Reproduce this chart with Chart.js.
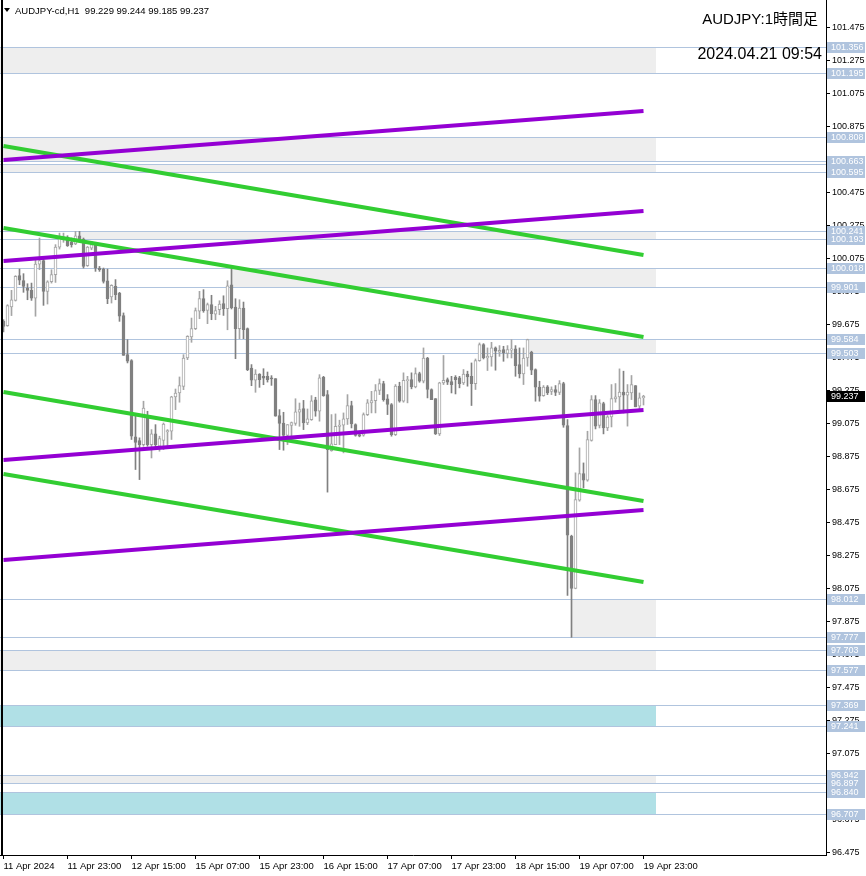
<!DOCTYPE html>
<html lang="ja">
<head>
<meta charset="UTF-8">
<title>AUDJPY H1</title>
<script src="https://cdn.jsdelivr.net/npm/chart.js@4.4.1/dist/chart.umd.min.js"></script>
<style>
  html, body { margin: 0; padding: 0; background: #fff; }
  #wrap { width: 866px; height: 876px; }
</style>
</head>
<body>
<div id="wrap"><canvas id="chart" width="866" height="876"></canvas></div>
<script>
// hourly candles, bar 0 = 11 Apr 07:00, bar 160 = 19 Apr 23:00
const opens = [
  99.692, 99.666, 99.779, 99.819, 99.969, 99.939, 99.894, 99.880, 99.832, 100.039,
  100.060, 99.874, 99.932, 99.975, 100.142, 100.191, 100.203, 100.171, 100.161, 100.211,
  100.191, 100.029, 100.136, 100.157, 100.015, 100.009, 99.938, 99.840, 99.904, 99.864,
  99.727, 99.490, 99.454, 98.992, 98.969, 98.945, 99.111, 98.945, 99.010, 98.935,
  98.971, 99.022, 99.026, 99.234, 99.258, 99.298, 99.470, 99.597, 99.648, 99.753,
  99.830, 99.759, 99.793, 99.736, 99.763, 99.799, 99.769, 99.914, 99.779, 99.648,
  99.773, 99.648, 99.409, 99.335, 99.373, 99.359, 99.359, 99.349, 99.345, 99.121,
  99.076, 99.001, 99.062, 99.074, 99.141, 99.163, 99.076, 99.096, 99.217, 99.147,
  99.353, 99.248, 98.909, 98.945, 99.056, 99.063, 99.101, 99.182, 99.067, 99.006,
  99.002, 99.127, 99.198, 99.212, 99.273, 99.315, 99.222, 99.188, 99.006, 99.299,
  99.208, 99.333, 99.339, 99.295, 99.375, 99.329, 99.470, 99.279, 99.224, 99.010,
  99.319, 99.339, 99.327, 99.353, 99.349, 99.319, 99.373, 99.359, 99.315, 99.454,
  99.551, 99.470, 99.476, 99.531, 99.505, 99.521, 99.497, 99.517, 99.525, 99.430,
  99.373, 99.470, 99.505, 99.400, 99.293, 99.242, 99.295, 99.268, 99.279, 99.262,
  99.315, 99.061, 98.390, 98.073, 98.608, 98.770, 98.729, 98.970, 99.218, 99.061,
  99.194, 99.046, 99.113, 99.222, 99.234, 99.264, 99.244, 99.258, 99.303, 99.178,
  99.229
];
const highs = [
  99.702, 99.793, 99.880, 99.969, 100.009, 99.981, 99.920, 99.924, 100.066, 100.197,
  100.076, 99.938, 100.005, 100.157, 100.227, 100.227, 100.211, 100.197, 100.237, 100.237,
  100.197, 100.146, 100.177, 100.167, 100.025, 100.015, 100.009, 99.914, 99.945, 99.868,
  99.743, 99.581, 99.460, 99.117, 98.986, 99.208, 99.147, 99.036, 99.066, 98.996,
  99.076, 99.036, 99.238, 99.282, 99.355, 99.490, 99.605, 99.712, 99.773, 99.874,
  99.884, 99.803, 99.850, 99.783, 99.817, 99.847, 99.938, 100.018, 99.829, 99.823,
  99.809, 99.652, 99.430, 99.399, 99.375, 99.405, 99.385, 99.363, 99.345, 99.157,
  99.141, 99.066, 99.082, 99.223, 99.197, 99.213, 99.161, 99.242, 99.232, 99.369,
  99.359, 99.273, 99.127, 99.131, 99.093, 99.137, 99.248, 99.208, 99.071, 99.026,
  99.137, 99.218, 99.268, 99.309, 99.343, 99.329, 99.248, 99.194, 99.309, 99.323,
  99.380, 99.359, 99.380, 99.410, 99.384, 99.531, 99.474, 99.283, 99.224, 99.323,
  99.485, 99.349, 99.359, 99.363, 99.359, 99.400, 99.390, 99.440, 99.464, 99.561,
  99.557, 99.531, 99.565, 99.537, 99.545, 99.541, 99.545, 99.581, 99.545, 99.531,
  99.531, 99.584, 99.511, 99.404, 99.329, 99.303, 99.303, 99.295, 99.303, 99.333,
  99.323, 99.097, 98.396, 98.774, 98.925, 98.834, 99.026, 99.242, 99.242, 99.218,
  99.202, 99.121, 99.309, 99.315, 99.404, 99.390, 99.309, 99.364, 99.303, 99.258,
  99.244
];
const lows = [
  99.628, 99.662, 99.727, 99.815, 99.914, 99.868, 99.823, 99.819, 99.723, 100.005,
  99.789, 99.797, 99.924, 99.928, 100.130, 100.171, 100.146, 100.142, 100.157, 100.183,
  100.015, 100.025, 100.126, 99.995, 99.995, 99.924, 99.799, 99.803, 99.823, 99.692,
  99.486, 99.440, 98.976, 98.794, 98.733, 98.935, 98.935, 98.864, 98.915, 98.905,
  98.915, 98.935, 98.976, 99.157, 99.202, 99.278, 99.460, 99.565, 99.642, 99.708,
  99.747, 99.678, 99.702, 99.702, 99.732, 99.728, 99.641, 99.767, 99.466, 99.587,
  99.587, 99.393, 99.302, 99.262, 99.292, 99.308, 99.324, 99.304, 99.117, 98.915,
  98.911, 98.945, 98.995, 99.062, 99.056, 99.036, 99.066, 99.092, 99.117, 99.087,
  99.238, 98.657, 98.905, 98.945, 98.945, 98.895, 99.067, 99.046, 98.996, 98.992,
  98.996, 99.121, 99.137, 99.137, 99.248, 99.208, 99.127, 98.996, 99.000, 99.202,
  99.202, 99.198, 99.283, 99.289, 99.323, 99.319, 99.228, 99.218, 99.006, 99.000,
  99.309, 99.309, 99.258, 99.252, 99.289, 99.309, 99.299, 99.182, 99.279, 99.450,
  99.464, 99.394, 99.420, 99.396, 99.480, 99.450, 99.470, 99.470, 99.359, 99.349,
  99.309, 99.420, 99.369, 99.208, 99.208, 99.238, 99.248, 99.248, 99.242, 99.248,
  99.050, 98.031, 97.777, 98.071, 98.602, 98.683, 98.723, 98.966, 99.040, 99.046,
  99.010, 99.030, 99.052, 99.202, 99.157, 99.137, 99.057, 99.218, 99.174, 99.157,
  99.185
];
const closes = [
  99.662, 99.787, 99.823, 99.965, 99.941, 99.904, 99.880, 99.832, 100.039, 100.060,
  99.874, 99.932, 99.975, 100.142, 100.203, 100.203, 100.151, 100.157, 100.211, 100.191,
  100.025, 100.142, 100.157, 100.015, 100.005, 99.934, 99.830, 99.910, 99.854, 99.723,
  99.486, 99.450, 98.996, 98.959, 98.945, 99.167, 98.945, 99.010, 98.945, 98.982,
  99.070, 99.030, 99.234, 99.258, 99.303, 99.470, 99.601, 99.648, 99.757, 99.830,
  99.757, 99.793, 99.739, 99.757, 99.797, 99.769, 99.908, 99.773, 99.648, 99.773,
  99.641, 99.399, 99.335, 99.373, 99.339, 99.347, 99.339, 99.343, 99.117, 99.074,
  99.001, 99.066, 99.078, 99.143, 99.157, 99.076, 99.102, 99.211, 99.147, 99.349,
  99.242, 98.915, 98.949, 99.056, 99.063, 99.101, 99.182, 99.071, 99.000, 98.996,
  99.127, 99.198, 99.212, 99.273, 99.315, 99.218, 99.188, 99.006, 99.299, 99.208,
  99.335, 99.339, 99.295, 99.375, 99.329, 99.470, 99.279, 99.218, 99.010, 99.319,
  99.335, 99.323, 99.309, 99.339, 99.315, 99.373, 99.355, 99.315, 99.454, 99.551,
  99.470, 99.480, 99.531, 99.511, 99.517, 99.501, 99.521, 99.525, 99.424, 99.373,
  99.470, 99.581, 99.396, 99.293, 99.238, 99.293, 99.258, 99.279, 99.262, 99.315,
  99.063, 98.396, 98.073, 98.612, 98.770, 98.729, 98.976, 99.218, 99.057, 99.198,
  99.046, 99.113, 99.224, 99.234, 99.264, 99.244, 99.264, 99.309, 99.174, 99.228,
  99.237
];

// one label every 16 bars
const xLabels = ['11 Apr 2024', '11 Apr 23:00', '12 Apr 15:00', '15 Apr 07:00', '15 Apr 23:00',
  '16 Apr 15:00', '17 Apr 07:00', '17 Apr 23:00', '18 Apr 15:00', '19 Apr 07:00', '19 Apr 23:00'];
const yTicks = [101.475, 101.275, 101.075, 100.875, 100.675, 100.475, 100.275, 100.075, 99.875,
  99.675, 99.475, 99.275, 99.075, 98.875, 98.675, 98.475, 98.275, 98.075, 97.875, 97.675,
  97.475, 97.275, 97.075, 96.875, 96.675, 96.475];

// horizontal levels (labelled on the price axis) and one unlabelled
const levels = [101.356, 101.195, 100.808, 100.663, 100.595, 100.241, 100.193, 100.018, 99.901,
  99.584, 99.503, 98.012, 97.777, 97.703, 97.577, 97.369, 97.241, 96.942, 96.897, 96.840, 96.707];
const extraLines = [100.644];

// zones: [top, bottom, first bar (null = from left edge)]
const grayZones = [[101.356, 101.195, null], [100.808, 100.663, null], [100.644, 100.595, null],
  [100.241, 100.193, 19], [100.018, 99.901, 57], [99.584, 99.503, 131], [98.012, 97.777, 142],
  [97.703, 97.577, null], [96.942, 96.897, null]];
const blueZones = [[97.369, 97.241, null], [96.840, 96.707, null]];
const zoneEndBar = 163;

// trend lines: [price at bar 0, price at bar 160]
const purpleLines = [[100.670, 100.967], [100.058, 100.361], [98.852, 99.155], [98.246, 98.549]];
const greenLines = [[100.755, 100.094], [100.258, 99.597], [99.264, 98.603], [98.767, 98.112]];

const symbol = 'AUDJPY-cd,H1';
const title = 'AUDJPY:1時間足';
const stamp = '2024.04.21 09:54';

const FONT = "'Liberation Sans', Arial, sans-serif";
const last = opens.length - 1;
const idx = opens.map((_, i) => i);
const bull = idx.map(i => closes[i] >= opens[i]);
const BULL = '#a5a5a5', BEAR = '#808080';

const trendSet = (p, color) => ({
  type: 'line',
  data: [{x: 0, y: p[0]}, {x: last, y: p[1]}],
  borderColor: color, borderWidth: 4, pointRadius: 0, order: 0
});

const overlay = {
  id: 'overlay',
  beforeDatasetsDraw(chart) {
    const {ctx, chartArea: a, scales: {x, y}} = chart;
    ctx.save();
    ctx.beginPath();
    ctx.rect(a.left, a.top, a.right - a.left, a.bottom - a.top);
    ctx.clip();
    const endX = Math.round(x.getPixelForValue(zoneEndBar));
    const zone = (z, color) => {
      const x0 = z[2] == null ? a.left : Math.round(x.getPixelForValue(z[2]));
      const y0 = Math.round(y.getPixelForValue(z[0]));
      const y1 = Math.round(y.getPixelForValue(z[1]));
      ctx.fillStyle = color;
      ctx.fillRect(x0, y0, endX - x0, y1 - y0 + 1);
    };
    grayZones.forEach(z => zone(z, '#eeeeee'));
    blueZones.forEach(z => zone(z, '#b0e0e6'));
    ctx.strokeStyle = '#b0c4de';
    ctx.lineWidth = 1;
    levels.concat(extraLines).forEach(p => {
      const py = Math.round(y.getPixelForValue(p)) + 0.5;
      ctx.beginPath();
      ctx.moveTo(a.left, py);
      ctx.lineTo(a.right, py);
      ctx.stroke();
    });
    ctx.restore();
  },
  afterDraw(chart) {
    const {ctx, chartArea: a, scales: {y}} = chart;
    ctx.save();
    ctx.font = '9px ' + FONT;
    ctx.textBaseline = 'middle';
    ctx.textAlign = 'left';
    const box = (p, bg) => {
      const py = Math.round(y.getPixelForValue(p));
      ctx.fillStyle = bg;
      ctx.fillRect(a.right + 1, py - 5, 38, 11);
      ctx.fillStyle = '#fff';
      ctx.fillText(p.toFixed(3), a.right + 5, py + 1);
    };
    levels.forEach(p => box(p, '#b0c4de'));
    box(closes[last], '#000');

    // left frame
    ctx.fillStyle = '#000';
    ctx.fillRect(1, 0, 2, a.bottom);

    // header line
    ctx.beginPath();
    ctx.moveTo(4, 8); ctx.lineTo(10, 8); ctx.lineTo(7, 12); ctx.closePath();
    ctx.fill();
    ctx.font = '9.5px ' + FONT;
    const ohlc = [opens[last], highs[last], lows[last], closes[last]].map(v => v.toFixed(3)).join(' ');
    ctx.fillText(symbol + '  ' + ohlc, 15, 11);

    ctx.textAlign = 'right';
    ctx.font = "15px 'Liberation Sans', 'Noto Sans CJK JP', sans-serif";
    ctx.fillText(title, 818, 20);
    ctx.font = "16px 'Liberation Sans', 'Noto Sans CJK JP', sans-serif";
    ctx.fillText(stamp, 822, 55);
    ctx.restore();
  }
};

new Chart(document.getElementById('chart'), {
  type: 'bar',
  data: {
    datasets: [
      ...purpleLines.map(p => trendSet(p, '#9400d3')),
      ...greenLines.map(p => trendSet(p, '#32cd32')),
      {
        type: 'bar',
        data: idx.map(i => ({x: i, y: [opens[i], closes[i]]})),
        backgroundColor: bull.map(b => b ? '#ffffff' : BEAR),
        borderColor: bull.map(b => b ? BULL : BEAR),
        borderWidth: 1, borderSkipped: false, minBarLength: 1,
        barThickness: 3, grouped: false, order: 1
      },
      {
        type: 'bar',
        data: idx.map(i => ({x: i, y: [lows[i], highs[i]]})),
        backgroundColor: bull.map(b => b ? BULL : BEAR),
        borderWidth: 0, barThickness: 1, grouped: false, order: 2
      }
    ]
  },
  options: {
    responsive: false,
    animation: false,
    layout: {padding: 0},
    plugins: {legend: {display: false}, tooltip: {enabled: false}},
    scales: {
      x: {
        type: 'linear', min: -0.875, max: 205.625, offset: false,
        afterBuildTicks: s => { s.ticks = xLabels.map((_, k) => ({value: k * 16})); },
        afterFit: s => { s.height = 21; s.paddingLeft = 0; s.paddingRight = 0; },
        ticks: {
          align: 'start', padding: 2, color: '#000', maxRotation: 0, autoSkip: false,
          font: {family: FONT, size: 9.5},
          callback: (v, k) => xLabels[k]
        },
        grid: {drawOnChartArea: false, offset: false, tickLength: 4, color: '#000'},
        border: {color: '#000'}
      },
      y: {
        type: 'linear', position: 'right', min: 96.4578, max: 101.6396, beginAtZero: false,
        afterBuildTicks: s => { s.ticks = yTicks.map(v => ({value: v})); },
        afterFit: s => { s.width = 40; s.paddingTop = 0; s.paddingBottom = 0; },
        ticks: {
          padding: 2, color: '#000',
          font: {family: FONT, size: 9},
          callback: v => v.toFixed(3)
        },
        grid: {drawOnChartArea: false, tickLength: 4, color: '#000'},
        border: {color: '#000'}
      }
    }
  },
  plugins: [overlay]
});
</script>
</body>
</html>
